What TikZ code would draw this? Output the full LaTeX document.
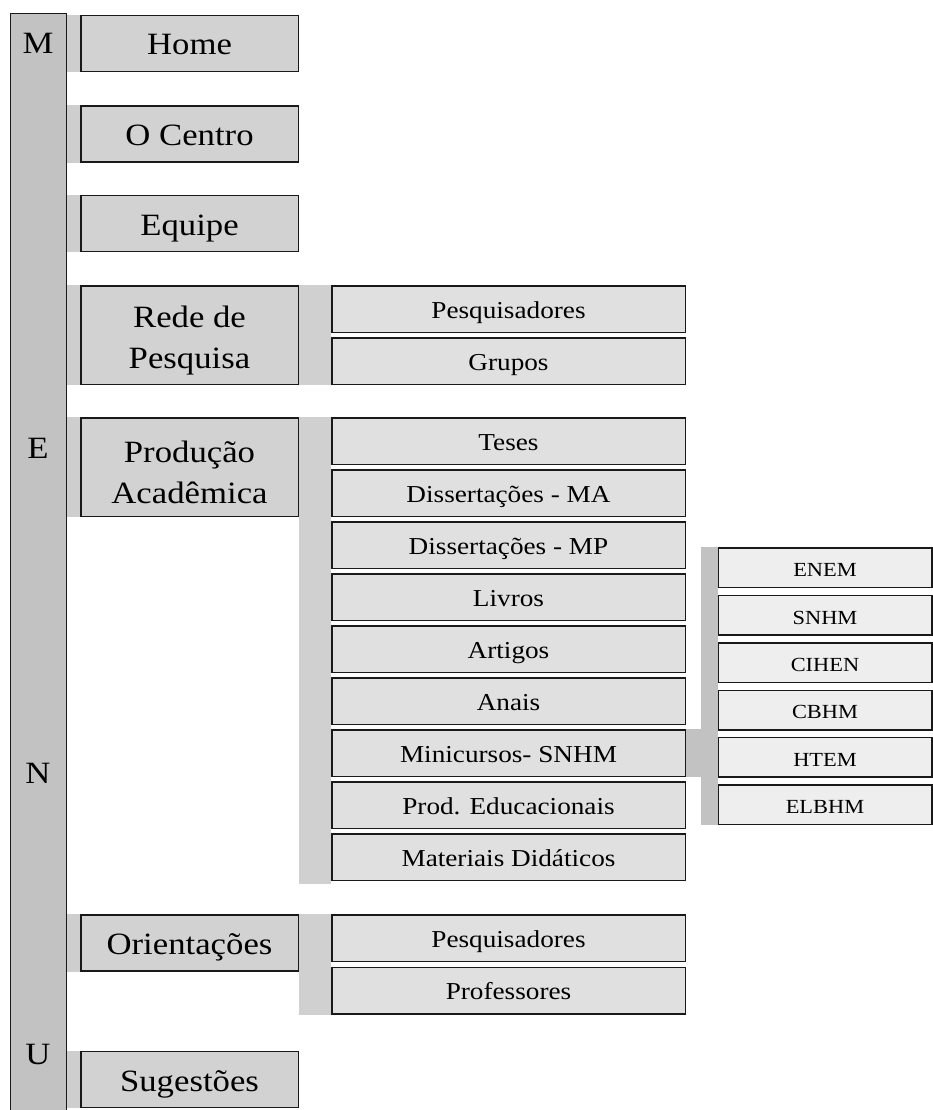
\documentclass[tikz,border=0pt]{standalone}
\usepackage{fontspec}
\setmainfont[FakeStretch=1.12]{Liberation Serif}
\usepackage{tikz}

\begin{document}
\begin{tikzpicture}[x=1pt,y=-1pt]
%define
\definecolor{c_bar}{RGB}{194,194,194}
\definecolor{c_one}{RGB}{210,210,210}
\definecolor{c_two}{RGB}{224,224,224}
\definecolor{c_three}{RGB}{238,238,238}
\definecolor{c_bandone}{RGB}{206,206,206}
\definecolor{c_bandtwo}{RGB}{208,208,208}
\definecolor{c_bandthree}{RGB}{194,194,194}
\tikzstyle{item_bar} = [rectangle, minimum width=56pt, minimum height=1100pt, inner sep=0pt, draw=black!90, line width=1.5pt, fill=c_bar, anchor=north west]
\tikzstyle{item_l} = [inner sep=0pt, font=\fontsize{31}{31}\selectfont]
\tikzstyle{item_a} = [rectangle, minimum width=217.5pt, minimum height=56pt, inner sep=0pt, text centered, text height=23pt, text depth=0pt, draw=black!90, line width=1.5pt, fill=c_one, font=\fontsize{31}{41}\selectfont]
\tikzstyle{item_aa} = [rectangle, minimum width=217.5pt, minimum height=98.5pt, inner sep=0pt, align=center, draw=black!90, line width=1.5pt, fill=c_one, font=\fontsize{31}{41}\selectfont]
\tikzstyle{item_b} = [rectangle, minimum width=353.5pt, minimum height=46.5pt, inner sep=0pt, text centered, text height=18.6pt, text depth=0pt, draw=black!90, line width=1.5pt, fill=c_two, font=\fontsize{24.3}{28}\selectfont]
\tikzstyle{item_c} = [rectangle, minimum width=213.5pt, minimum height=39.5pt, inner sep=0pt, text centered, text height=17.8pt, text depth=0pt, draw=black!90, line width=1.5pt, fill=c_three, font=\fontsize{20}{24}\selectfont]

\useasboundingbox (0,0) rectangle (933,1110);

%menu bar
\node[item_bar](item_Menu) at (9.5,12.7){};
\node[item_l](menu_M) at (38,43){M};
\node[item_l](menu_E) at (38,448){E};
\node[item_l](menu_N) at (38,773){N};
\node[item_l](menu_U) at (38,1054){U};

%level 1
\node[item_a](item_Home) at (189.5,43.5){Home};
\node[item_a](item_Centro) at (189.5,134){O Centro};
\node[item_a](item_Equipe) at (189.5,223.5){Equipe};
\node[item_aa](item_Rede) at (189.5,335){\rule{0pt}{32pt}Rede de\\Pesquisa};
\node[item_aa](item_Prod) at (189.5,467){\rule{0pt}{32pt}Produção\\Acadêmica};
\node[item_a](item_Orient) at (189.5,943){Orientações};
\node[item_a](item_Sug) at (189.5,1079.5){Sugestões};

%level 2
\node[item_b](item_RedePesq) at (508.5,309){Pesquisadores};
\node[item_b, below of = item_RedePesq, node distance=52pt](item_RedeGrupos){Grupos};
\node[item_b](item_Teses) at (508.5,441){Teses};
\node[item_b, below of = item_Teses, node distance=52pt](item_DissMA){Dissertações - MA};
\node[item_b, below of = item_DissMA, node distance=52pt](item_DissMP){Dissertações - MP};
\node[item_b, below of = item_DissMP, node distance=52pt](item_Livros){Livros};
\node[item_b, below of = item_Livros, node distance=52pt](item_Artigos){Artigos};
\node[item_b, below of = item_Artigos, node distance=52pt](item_Anais){Anais};
\node[item_b, below of = item_Anais, node distance=52pt](item_Mini){Minicursos- SNHM};
\node[item_b, below of = item_Mini, node distance=52pt](item_ProdEdu){Prod. Educacionais};
\node[item_b, below of = item_ProdEdu, node distance=52pt](item_Materiais){Materiais Didáticos};
\node[item_b](item_OrientPesq) at (508.5,938){Pesquisadores};
\node[item_b, below of = item_OrientPesq, node distance=52.5pt](item_OrientProf){Professores};

%level 3
\node[item_c](item_ENEM) at (825,567.8){ENEM};
\node[item_c, below of = item_ENEM, node distance=47.4pt](item_SNHM){SNHM};
\node[item_c, below of = item_SNHM, node distance=47.4pt](item_CIHEN){CIHEN};
\node[item_c, below of = item_CIHEN, node distance=47.4pt](item_CBHM){CBHM};
\node[item_c, below of = item_CBHM, node distance=47.4pt](item_HTEM){HTEM};
\node[item_c, below of = item_HTEM, node distance=47.4pt](item_ELBHM){ELBHM};

%bands
\fill[c_bandone](item_Menu.east |- item_Home.north) rectangle (item_Home.south west); %Menu->Home
\fill[c_bandone](item_Menu.east |- item_Centro.north) rectangle (item_Centro.south west); %Menu->O Centro
\fill[c_bandone](item_Menu.east |- item_Equipe.north) rectangle (item_Equipe.south west); %Menu->Equipe
\fill[c_bandone](item_Menu.east |- item_Rede.north) rectangle (item_Rede.south west); %Menu->Rede
\fill[c_bandone](item_Menu.east |- item_Prod.north) rectangle (item_Prod.south west); %Menu->Producao
\fill[c_bandone](item_Menu.east |- item_Orient.north) rectangle (item_Orient.south west); %Menu->Orientacoes
\fill[c_bandone](item_Menu.east |- item_Sug.north) rectangle (item_Sug.south west); %Menu->Sugestoes
\fill[c_bandtwo](item_Rede.north east) rectangle (item_RedeGrupos.south west); %Rede->list
\fill[c_bandtwo](item_Prod.north east) rectangle ([yshift=-3pt]item_Materiais.south west); %Producao->list
\fill[c_bandtwo](item_Orient.north east) rectangle (item_OrientProf.south west); %Orientacoes->list
\fill[c_bandthree](item_Mini.north east) rectangle (item_ENEM.west |- item_Mini.south); %Minicursos->list
\fill[c_bandthree]([xshift=-17pt]item_ENEM.north west) rectangle (item_ELBHM.south west);

\end{tikzpicture}
\end{document}
